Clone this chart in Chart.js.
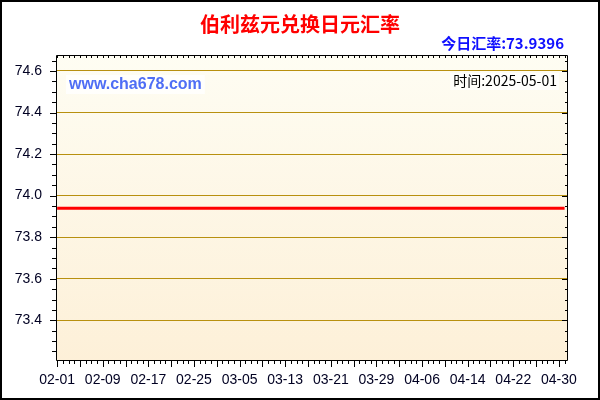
<!DOCTYPE html>
<html>
<head>
<meta charset="utf-8">
<script src="https://cdn.jsdelivr.net/npm/chart.js@4.4.1/dist/chart.umd.min.js"></script>
<style>
  html, body { margin: 0; padding: 0; background: #fff; }
  #wrap { width: 600px; height: 400px; }
</style>
</head>
<body>
<div id="wrap"><canvas id="c" width="600" height="400"></canvas></div>
<script>
// Daily BZD -> JPY rate, 02-01 .. 05-01 (flat in the source picture).
const rates = [
  73.9396, 73.9396, 73.9396, 73.9396, 73.9396, 73.9396, 73.9396, 73.9396, 73.9396, 73.9396,
  73.9396, 73.9396, 73.9396, 73.9396, 73.9396, 73.9396, 73.9396, 73.9396, 73.9396, 73.9396,
  73.9396, 73.9396, 73.9396, 73.9396, 73.9396, 73.9396, 73.9396, 73.9396, 73.9396, 73.9396,
  73.9396, 73.9396, 73.9396, 73.9396, 73.9396, 73.9396, 73.9396, 73.9396, 73.9396, 73.9396,
  73.9396, 73.9396, 73.9396, 73.9396, 73.9396, 73.9396, 73.9396, 73.9396, 73.9396, 73.9396,
  73.9396, 73.9396, 73.9396, 73.9396, 73.9396, 73.9396, 73.9396, 73.9396, 73.9396, 73.9396,
  73.9396, 73.9396, 73.9396, 73.9396, 73.9396, 73.9396, 73.9396, 73.9396, 73.9396, 73.9396,
  73.9396, 73.9396, 73.9396, 73.9396, 73.9396, 73.9396, 73.9396, 73.9396, 73.9396, 73.9396,
  73.9396, 73.9396, 73.9396, 73.9396, 73.9396, 73.9396, 73.9396, 73.9396, 73.9396, 73.9396
];
// x labels, one every 8 days (day offset from 02-01)
const xTickDays = [0, 8, 16, 24, 32, 40, 48, 56, 64, 72, 80, 88];
const xTickLabels = ['02-01', '02-09', '02-17', '02-25', '03-05', '03-13', '03-21', '03-29', '04-06', '04-14', '04-22', '04-30'];
const yTicks = [73.4, 73.6, 73.8, 74.0, 74.2, 74.4, 74.6];

const TITLE = '伯利兹元兑换日元汇率';
const TODAY = '今日汇率:73.9396';
const SITE = 'www.cha678.com';
const STAMP = '时间:2025-05-01';

// background, frame and header texts
const backdrop = {
  id: 'backdrop',
  beforeDraw(chart) {
    const { ctx, chartArea: a } = chart;
    ctx.save();
    ctx.fillStyle = '#fff';
    ctx.fillRect(0, 0, chart.width, chart.height);
    ctx.strokeStyle = '#000';
    ctx.lineWidth = 2;
    ctx.strokeRect(1, 1, chart.width - 2, chart.height - 2);

    const g = ctx.createLinearGradient(0, a.top, 0, a.bottom);
    g.addColorStop(0, '#fefdf3');
    g.addColorStop(1, '#fdf0d8');
    ctx.fillStyle = g;
    ctx.fillRect(a.left, a.top, a.right - a.left, a.bottom - a.top);

    ctx.textBaseline = 'middle';
    ctx.textAlign = 'center';
    ctx.fillStyle = '#ff0000';
    ctx.font = 'bold 20px "Noto Sans CJK SC"';
    ctx.fillText(TITLE, 300, 24);

    ctx.textAlign = 'right';
    ctx.fillStyle = '#1010ff';
    ctx.font = 'bold 15px "Noto Sans CJK SC"';
    ctx.fillText(TODAY, 564, 43);
    ctx.restore();
  },
  afterDatasetsDraw(chart) {
    const { ctx, chartArea: a, scales: { x, y } } = chart;
    ctx.save();
    ctx.strokeStyle = '#000';
    ctx.lineWidth = 1;
    ctx.beginPath();
    ctx.rect(a.left + 0.5, a.top + 0.5, a.right - a.left - 1, a.bottom - a.top - 1);
    ctx.stroke();

    // day ticks on bottom and top
    ctx.beginPath();
    for (let d = 0; d < rates.length; d++) {
      const px = Math.round(x.getPixelForValue(d)) + 0.5;
      const len = d % 4 === 0 ? 6 : 3;
      ctx.moveTo(px, a.bottom);
      ctx.lineTo(px, a.bottom + len);
      ctx.moveTo(px, a.top);
      ctx.lineTo(px, a.top + 3);
    }
    // value ticks left (outside) and right (inside)
    for (let v = 73.25; v < 74.67; v += 0.05) {
      const py = Math.round(y.getPixelForValue(v)) + 0.5;
      const major = yTicks.some(t => Math.abs(t - v) < 0.001);
      const len = major ? 6 : 4;
      ctx.moveTo(a.left - len, py);
      ctx.lineTo(a.left, py);
      ctx.moveTo(a.right, py);
      ctx.lineTo(a.right - (major ? 6 : 3), py);
    }
    ctx.stroke();

    // watermark texts
    ctx.textBaseline = 'middle';
    ctx.font = 'bold 16px "Liberation Sans"';
    const sw = ctx.measureText(SITE).width;
    ctx.fillStyle = 'rgba(255,255,255,0.8)';
    ctx.fillRect(66, 75, sw + 6, 19);
    ctx.fillStyle = '#4f6ef5';
    ctx.textAlign = 'left';
    ctx.fillText(SITE, 69, 84.5);

    ctx.font = '14px "Noto Sans CJK SC"';
    const tw = ctx.measureText(STAMP).width;
    ctx.fillStyle = 'rgba(255,255,255,0.8)';
    ctx.fillRect(557 - tw - 3, 73, tw + 5, 17);
    ctx.fillStyle = '#000';
    ctx.textAlign = 'right';
    ctx.fillText(STAMP, 557, 81);
    ctx.restore();
  }
};

new Chart(document.getElementById('c'), {
  type: 'line',
  data: {
    datasets: [{
      data: rates.map((v, i) => ({ x: i, y: v })),
      borderColor: '#ff0000',
      borderWidth: 3,
      pointRadius: 0,
      tension: 0
    }]
  },
  options: {
    responsive: false,
    animation: false,
    layout: { padding: { left: 0, top: 55, right: 32, bottom: 0 } },
    plugins: { legend: { display: false }, tooltip: { enabled: false } },
    scales: {
      x: {
        type: 'linear',
        min: -0.2,
        max: 89.6,
        grid: { display: false, drawTicks: false },
        border: { display: false },
        afterBuildTicks: (s) => { s.ticks = xTickDays.map(d => ({ value: d })); },
        afterFit: (s) => { s.height = 39; },
        ticks: {
          autoSkip: false,
          maxRotation: 0,
          padding: 11,
          color: '#000022',
          font: { family: 'Liberation Sans', size: 14 },
          callback: (v) => xTickLabels[xTickDays.indexOf(v)]
        }
      },
      y: {
        min: 73.204,
        max: 74.677,
        grid: { color: '#b8900f', lineWidth: 1, drawTicks: false },
        border: { display: false },
        afterBuildTicks: (s) => { s.ticks = yTicks.map(v => ({ value: v })); },
        afterFit: (s) => { s.width = 56; },
        ticks: {
          padding: 14,
          color: '#000022',
          font: { family: 'Liberation Sans', size: 14 },
          callback: (v) => v.toFixed(1)
        }
      }
    }
  },
  plugins: [backdrop]
});
</script>
</body>
</html>
